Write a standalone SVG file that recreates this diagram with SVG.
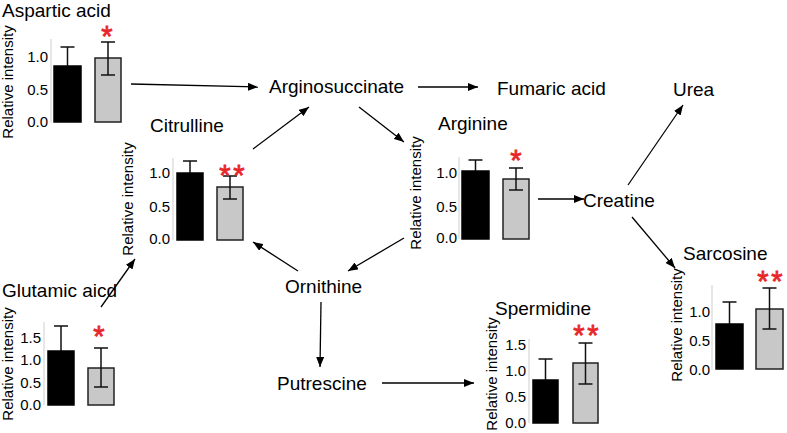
<svg xmlns="http://www.w3.org/2000/svg" width="787" height="433" viewBox="0 0 787 433">
<defs>
<style>
text{font-family:"Liberation Sans",Arial,sans-serif;fill:#000}
.t{font-size:19px}
.n{font-size:19px}
.k{font-size:15px;text-anchor:end}
.ri{font-size:15px;text-anchor:middle}
.s{font-size:29px;fill:#e8262a;stroke:#e8262a;stroke-width:0.8;text-anchor:middle}
.ax{stroke:#cfcfcf;stroke-width:1}
.bb{fill:#000;stroke:#000;stroke-width:1.5}
.gb{fill:#c8c8c8;stroke:#222;stroke-width:1.5}
.e{stroke:#111;stroke-width:1.5;fill:none}
.c{stroke:#000;stroke-width:1.3;fill:none;marker-end:url(#ah)}
</style>
<marker id="ah" markerUnits="userSpaceOnUse" markerWidth="10" markerHeight="8" refX="10" refY="4" orient="auto">
<path d="M0,0 L10,4 L0,8 z" fill="#000"/>
</marker>
</defs>
<rect width="787" height="433" fill="#fff"/>

<g id="aspartic">
<text class="t" x="2" y="17">Aspartic acid</text>
<text class="ri" transform="translate(13,82) rotate(-90)">Relative intensity</text>
<line class="ax" x1="51" y1="39" x2="51" y2="123"/>
<text class="k" x="48" y="62">1.0</text>
<text class="k" x="48" y="95">0.5</text>
<text class="k" x="48" y="127">0.0</text>
<path class="e" d="M67.5,47 V66 M60.5,47 H74.5"/>
<rect class="bb" x="54" y="66" width="27" height="56"/>
<rect class="gb" x="95" y="58" width="26" height="64"/>
<path class="e" d="M108,42 V75 M101,42 H115 M101,75 H115"/>
<text class="s" x="107" y="46">*</text>
</g>

<g id="citrulline">
<text class="t" x="150" y="132">Citrulline</text>
<text class="ri" transform="translate(133,199) rotate(-90)">Relative intensity</text>
<line class="ax" x1="173" y1="158" x2="173" y2="240"/>
<text class="k" x="170" y="178">1.0</text>
<text class="k" x="170" y="212">0.5</text>
<text class="k" x="170" y="244">0.0</text>
<path class="e" d="M190,161 V173 M183,161 H197"/>
<rect class="bb" x="177" y="173" width="26" height="67"/>
<rect class="gb" x="217" y="187" width="26" height="53"/>
<path class="e" d="M230,176 V199 M223,176 H237 M223,199 H237"/>
<text class="s" x="225" y="185">*</text>
<text class="s" x="239" y="185">*</text>
</g>

<g id="glutamic">
<text class="t" x="2" y="297">Glutamic aicd</text>
<text class="ri" transform="translate(13,364) rotate(-90)">Relative intensity</text>
<line class="ax" x1="44" y1="322" x2="44" y2="405"/>
<text class="k" x="41" y="343">1.5</text>
<text class="k" x="41" y="365">1.0</text>
<text class="k" x="41" y="388">0.5</text>
<text class="k" x="41" y="410">0.0</text>
<path class="e" d="M61,326 V351 M54,326 H68"/>
<rect class="bb" x="48" y="351" width="26" height="54"/>
<rect class="gb" x="88" y="368" width="26" height="37"/>
<path class="e" d="M101,348 V387 M94,348 H108 M94,387 H108"/>
<text class="s" x="99" y="346">*</text>
</g>

<g id="arginine">
<text class="t" x="438" y="130">Arginine</text>
<text class="ri" transform="translate(421,193) rotate(-90)">Relative intensity</text>
<line class="ax" x1="459" y1="157" x2="459" y2="239"/>
<text class="k" x="457" y="178">1.0</text>
<text class="k" x="457" y="212">0.5</text>
<text class="k" x="457" y="243">0.0</text>
<path class="e" d="M475.5,160 V171 M468.5,160 H482.5"/>
<rect class="bb" x="462" y="171" width="27" height="68"/>
<rect class="gb" x="503" y="179" width="26" height="60"/>
<path class="e" d="M516,168 V190 M509,168 H523 M509,190 H523"/>
<text class="s" x="516" y="170">*</text>
</g>

<g id="sarcosine">
<text class="t" x="683" y="260">Sarcosine</text>
<text class="ri" transform="translate(682,325) rotate(-90)">Relative intensity</text>
<line class="ax" x1="712" y1="285" x2="712" y2="370"/>
<text class="k" x="710" y="317">1.0</text>
<text class="k" x="710" y="346">0.5</text>
<text class="k" x="710" y="375">0.0</text>
<path class="e" d="M729.5,302 V324 M722.5,302 H736.5"/>
<rect class="bb" x="716" y="324" width="27" height="45"/>
<rect class="gb" x="756" y="309" width="27" height="60"/>
<path class="e" d="M769.5,288 V329 M762.5,288 H776.5 M762.5,329 H776.5"/>
<text class="s" x="763" y="291">*</text>
<text class="s" x="777" y="291">*</text>
</g>

<g id="spermidine">
<text class="t" x="495" y="315">Spermidine</text>
<text class="ri" transform="translate(497,374) rotate(-90)">Relative intensity</text>
<line class="ax" x1="529" y1="339" x2="529" y2="423"/>
<text class="k" x="526" y="350">1.5</text>
<text class="k" x="526" y="376">1.0</text>
<text class="k" x="526" y="402">0.5</text>
<text class="k" x="526" y="428">0.0</text>
<path class="e" d="M545.5,359 V380 M538.5,359 H552.5"/>
<rect class="bb" x="533" y="380" width="25" height="43"/>
<rect class="gb" x="573" y="363" width="25" height="60"/>
<path class="e" d="M585.5,343 V384 M578.5,343 H592.5 M578.5,384 H592.5"/>
<text class="s" x="579" y="345">*</text>
<text class="s" x="593" y="345">*</text>
</g>

<g id="arginosuccinate"><text class="n" x="269" y="93">Arginosuccinate</text></g>
<g id="fumaric"><text class="n" x="497" y="95">Fumaric acid</text></g>
<g id="urea"><text class="n" x="673" y="96">Urea</text></g>
<g id="creatine"><text class="n" x="583" y="207">Creatine</text></g>
<g id="ornithine"><text class="n" x="285" y="293">Ornithine</text></g>
<g id="putrescine"><text class="n" x="277" y="390">Putrescine</text></g>

<g id="connectors">
<line class="c" x1="131" y1="84" x2="258" y2="87"/>
<line class="c" x1="418" y1="87" x2="478" y2="87"/>
<line class="c" x1="253" y1="149" x2="309" y2="107"/>
<line class="c" x1="359" y1="107" x2="404" y2="142"/>
<line class="c" x1="538" y1="199" x2="584" y2="199"/>
<line class="c" x1="628" y1="185" x2="683" y2="105"/>
<line class="c" x1="632" y1="217" x2="675" y2="268"/>
<line class="c" x1="298" y1="271" x2="253" y2="242"/>
<line class="c" x1="404" y1="238" x2="348" y2="271"/>
<line class="c" x1="321" y1="302" x2="320" y2="367"/>
<line class="c" x1="382" y1="383" x2="474" y2="383"/>
<line class="c" x1="101" y1="307" x2="135" y2="259"/>
</g>
</svg>
